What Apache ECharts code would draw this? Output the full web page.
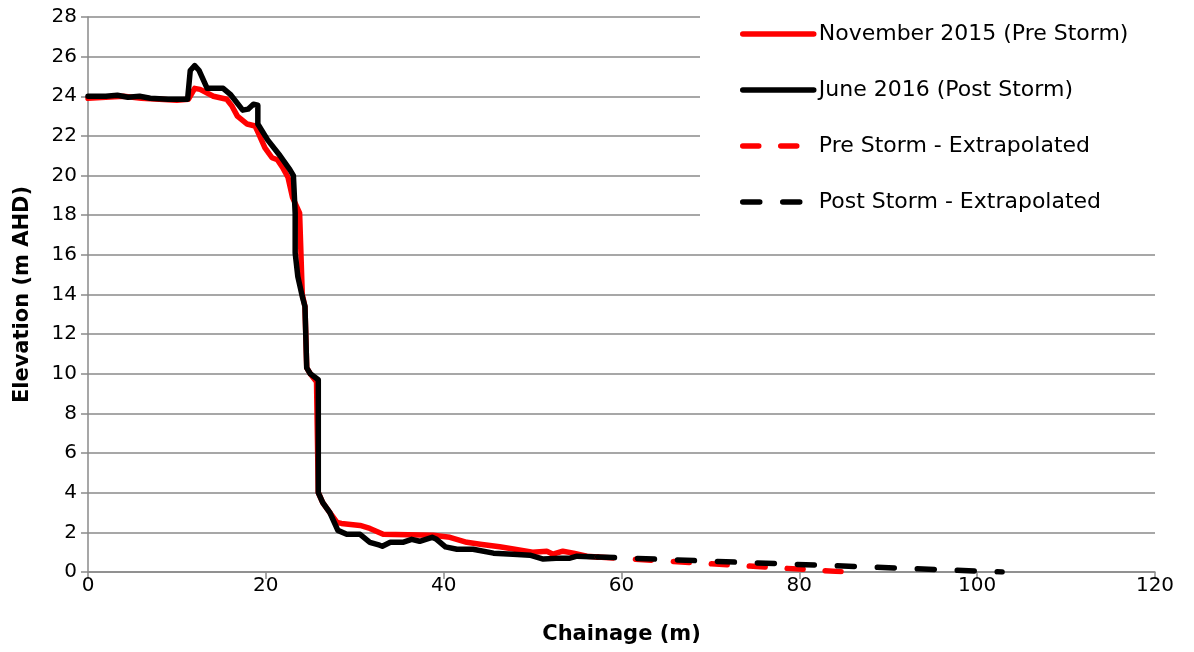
<!DOCTYPE html>
<html>
<head>
<meta charset="utf-8">
<script src="https://cdn.jsdelivr.net/npm/echarts@6/dist/echarts.min.js"></script>
<style>
html, body { margin: 0; padding: 0; background: #fff; }
#container { width: 1194px; height: 652px; }
</style>
</head>
<body>
<div id="container"></div>
<script>
// survey profile, chainage (m) vs elevation (m AHD)
var preChainage = [0, 2, 4, 6, 8, 10, 11.3, 12.0, 12.6, 14.1, 15.6, 16.2, 16.8, 17.9, 18.8, 19.2, 19.9, 20.7, 21.3, 21.9, 22.5, 23.0, 23.8, 24.1, 24.4, 24.6, 25.0, 25.7, 25.9, 26.4, 27.2, 28.0, 28.5, 30.6, 31.7, 33.2, 38.8, 40.7, 42.6, 44.1, 46.3, 48.0, 50.0, 51.6, 52.3, 53.4, 54.6, 56.1, 57.3];
var preElev = [23.9, 23.95, 24.0, 23.9, 23.85, 23.8, 23.85, 24.4, 24.35, 24.0, 23.85, 23.5, 23.0, 22.6, 22.5, 22.1, 21.4, 20.9, 20.8, 20.4, 19.9, 18.9, 18.1, 14.0, 13.4, 10.3, 10.0, 9.6, 4.0, 3.5, 3.0, 2.5, 2.45, 2.35, 2.2, 1.9, 1.85, 1.75, 1.5, 1.4, 1.27, 1.15, 1.0, 1.05, 0.9, 1.05, 0.95, 0.8, 0.76];

var postChainage = [0, 2, 3.3, 4.5, 5.8, 7, 9, 11.2, 11.5, 12.0, 12.5, 13.4, 15.2, 16.0, 17.4, 18.0, 18.6, 19.1, 19.1, 20.2, 21.6, 22.7, 23.1, 23.3, 23.3, 23.6, 24.1, 24.4, 24.6, 25.0, 25.9, 25.9, 26.4, 27.2, 28.1, 29.1, 30.6, 31.7, 32.8, 33.1, 34.0, 35.4, 36.4, 37.3, 38.7, 39.2, 40.2, 41.5, 43.3, 45.6, 47.8, 49.7, 51.2, 53.1, 54.2, 55.0, 57.3];
var postElev = [24.0, 24.0, 24.05, 23.95, 24.0, 23.9, 23.85, 23.85, 25.3, 25.55, 25.3, 24.4, 24.4, 24.1, 23.3, 23.35, 23.6, 23.55, 22.6, 21.8, 21.0, 20.3, 20.0, 18.1, 16.1, 14.9, 13.9, 13.4, 10.3, 10.0, 9.7, 4.0, 3.5, 3.0, 2.1, 1.9, 1.9, 1.5, 1.35, 1.3, 1.5, 1.5, 1.65, 1.55, 1.75, 1.65, 1.27, 1.15, 1.15, 0.95, 0.9, 0.85, 0.65, 0.7, 0.7, 0.8, 0.76];

var preExtrapChainage = [57.3, 85.4];
var preExtrapElev = [0.76, 0];
var postExtrapChainage = [57.3, 102.8];
var postExtrapElev = [0.76, 0];

var seriesNames = ['November 2015 (Pre Storm)', 'June 2016 (Post Storm)', 'Pre Storm - Extrapolated', 'Post Storm - Extrapolated'];
var xTicks = { min: 0, max: 120, interval: 20 };
var yTicks = { min: 0, max: 28, interval: 2 };

function pairs(xs, ys) {
    return xs.map(function (x, i) { return [x, ys[i]]; });
}

var dom = document.getElementById('container');
var myChart = echarts.init(dom);
var option = null;
var fontName = 'DejaVu Sans';
var gridGrey = '#8a8a8a';

option = {
    animation: false,
    backgroundColor: '#fff',
    textStyle: { fontFamily: fontName },
    grid: { left: 88, right: 39, top: 17, bottom: 80 },
    legend: {
        orient: 'vertical',
        left: 700,
        top: 0,
        padding: [23, 60, 23, 40],
        backgroundColor: '#fff',
        itemWidth: 71,
        itemHeight: 20,
        itemGap: 34,
        // hide the little symbol, keep only the line sample
        itemStyle: { color: 'rgba(0,0,0,0)', borderWidth: 0 },
        lineStyle: { width: 5.5, cap: 'round' },
        textStyle: { fontFamily: fontName, fontSize: 22, color: '#000' },
        data: seriesNames
    },
    xAxis: {
        type: 'value',
        min: xTicks.min, max: xTicks.max, interval: xTicks.interval,
        name: 'Chainage (m)',
        nameLocation: 'middle',
        nameGap: 52,
        nameTextStyle: { fontFamily: fontName, fontSize: 21, fontWeight: 'bold', color: '#000' },
        axisLine: { lineStyle: { color: gridGrey, width: 1.5 } },
        axisTick: { show: true, length: 7, lineStyle: { color: gridGrey, width: 1.5 } },
        axisLabel: { fontFamily: fontName, fontSize: 20, color: '#000', margin: 4 },
        splitLine: { show: false }
    },
    yAxis: {
        type: 'value',
        min: yTicks.min, max: yTicks.max, interval: yTicks.interval,
        name: 'Elevation (m AHD)',
        nameLocation: 'middle',
        nameGap: 55,
        nameTextStyle: { fontFamily: fontName, fontSize: 21, fontWeight: 'bold', color: '#000' },
        axisLine: { show: true, lineStyle: { color: gridGrey, width: 1.5 } },
        axisTick: { show: true, length: 7, lineStyle: { color: gridGrey, width: 1.5 } },
        axisLabel: { fontFamily: fontName, fontSize: 20, color: '#000', margin: 11 },
        splitLine: { show: true, lineStyle: { color: gridGrey, width: 1.5 } }
    },
    series: [
        {
            name: seriesNames[0],
            type: 'line',
            symbol: 'none',
            data: pairs(preChainage, preElev),
            lineStyle: { color: '#ff0000', width: 5.5, join: 'round', cap: 'round' },
            itemStyle: { color: '#ff0000' }
        },
        {
            name: seriesNames[1],
            type: 'line',
            symbol: 'none',
            data: pairs(postChainage, postElev),
            lineStyle: { color: '#000', width: 5.5, join: 'round', cap: 'round' },
            itemStyle: { color: '#000' }
        },
        {
            name: seriesNames[2],
            type: 'line',
            symbol: 'none',
            data: pairs(preExtrapChainage, preExtrapElev),
            lineStyle: { color: '#ff0000', width: 5.5, type: [16, 22], cap: 'round' },
            itemStyle: { color: '#ff0000' }
        },
        {
            name: seriesNames[3],
            type: 'line',
            symbol: 'none',
            data: pairs(postExtrapChainage, postExtrapElev),
            lineStyle: { color: '#000', width: 5.5, type: [17, 23], cap: 'round' },
            itemStyle: { color: '#000' }
        }
    ]
};

if (option && typeof option === 'object') {
    myChart.setOption(option, true);
}
</script>
</body>
</html>
